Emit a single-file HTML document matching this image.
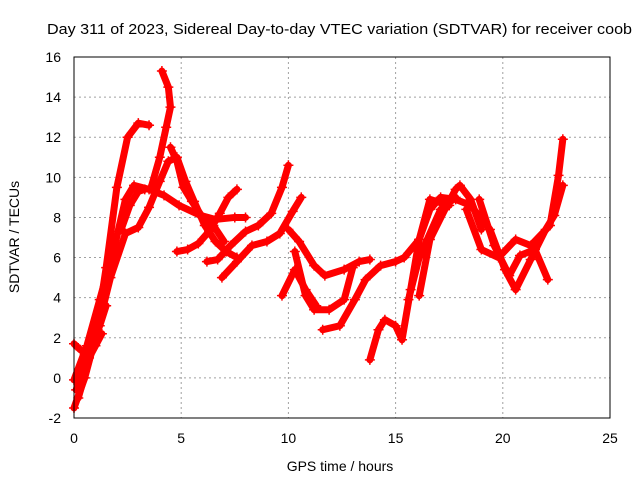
<!DOCTYPE html>
<html><head><meta charset="utf-8"><style>
body{margin:0;background:#fff;}
svg{display:block;font-family:"Liberation Sans",sans-serif;}
</style></head><body>
<svg id="chart" width="640" height="480">
<text x="47" y="34" font-size="15" textLength="585" lengthAdjust="spacingAndGlyphs">Day 311 of 2023, Sidereal Day-to-day VTEC variation (SDTVAR) for receiver coob</text>
<g id="grid"></g>
<g id="series"></g>
<rect x="74" y="57" width="536" height="361" fill="none" stroke="#000" stroke-width="1"/>
<g id="ticks"></g>
<text x="340" y="471" font-size="14" text-anchor="middle">GPS time / hours</text>
<text transform="translate(19,237) rotate(-90)" font-size="14" text-anchor="middle">SDTVAR / TECUs</text>
</svg>
<script>
const xTicks=[0,5,10,15,20,25];
const yTicks=[-2,0,2,4,6,8,10,12,14,16];
const arcT=[
[0,0.5,1,1.5,2,2.5,3,3.5],
[0,0.6,1.2,1.9,2.4,2.8,3.5,4.2,4.9,5.9,6.6,7.5,8.0],
[0.2,1,1.7,2.4,3,3.5,4,4.4,4.8,5.2,5.6,6.1,6.6,7.1,7.6],
[3.6,4.0,4.3,4.5,4.4,4.1],
[4.5,4.8,5.1,5.5,6.0,6.5,7.0],
[4.8,5.3,5.8,6.3,6.8,7.2,7.6],
[6.2,6.7,7.3,8,8.6,9.2,9.7,10],
[6.9,7.6,8.3,9,9.6,10.2,10.6],
[10,10.5,11.2,11.7,12.6,13.3,13.8],
[10.3,10.8,11.2,11.9,12.6,13.0],
[9.7,10.3,10.8,11.3],
[11.6,12.4,13.1,13.6,14.3,15,15.4,16.1,16.6,17.1,17.8,18.5],
[13.8,14.2,14.5,15,15.3,15.7,16.1,16.6,17.5],
[15.6,16.1,17.1,17.8],
[16.1,16.6,17.3,17.8,18,18.5,19],
[18.5,19.4,20.1,20.6,21.3,22,22.4,22.8],
[18.9,19.6,20.3,20.8,21.5,22.1],
[18.3,19,19.8,20.6,21.3,22.2,22.6,22.8],
[0,0.3,0.6,0.9,1.2,1.5],
[0.1,0.4,0.7,1.0,1.3],
[2.2,2.6,3.0,3.3]
];
const arcV=[
[-1.5,0,2,5.5,9.5,12,12.7,12.6],
[-0.1,1.6,3.9,6.6,8.9,9.6,9.4,9.1,8.6,8.1,7.9,8.0,8.0],
[-1,2,5,7.2,7.5,8.5,9.8,10.8,11,9.8,8.8,7.6,6.8,6.3,6.0],
[9.5,11.0,12.5,13.5,14.5,15.3],
[11.5,10.8,9.5,8.8,8.0,7.6,6.8],
[6.3,6.4,6.7,7.3,8.2,9.0,9.4],
[5.8,5.9,6.6,7.3,7.6,8.2,9.5,10.6],
[5.0,5.8,6.6,6.8,7.2,8.3,9.0],
[7.4,6.8,5.6,5.1,5.4,5.8,5.9],
[6.3,4.1,3.4,3.4,3.9,5.5],
[4.1,5.4,4.4,3.6],
[2.4,2.6,3.9,4.9,5.6,5.8,6.0,6.9,8.4,9,8.9,8.6],
[0.9,2.4,2.9,2.6,1.9,4.4,6.9,8.9,8.6],
[3.9,6.0,8.4,9.0],
[4.1,6.9,8.4,9.4,9.6,8.9,7.4],
[8.6,7.4,5.4,4.4,5.9,7.4,8.1,9.6],
[8.9,6.6,5.1,6.1,6.4,4.9],
[8.4,6.4,6.0,6.9,6.6,7.6,10.1,11.9],
[1.7,1.4,1.2,1.9,2.6,3.6],
[-0.6,0.4,1.0,1.6,2.2],
[7.4,8.6,9.3,9.4]
];
const NS='http://www.w3.org/2000/svg';
const X0=74,X1=610,Y0=418,Y1=57;
function xs(t){return X0+(t-0)/(25-0)*(X1-X0);}
function ys(v){return Y0-(v+2)/(16+2)*(Y0-Y1);}
const grid=document.getElementById('grid'),ticks=document.getElementById('ticks'),ser=document.getElementById('series');
xTicks.forEach(t=>{
  const x=xs(t);
  if(t>0&&t<25){const l=document.createElementNS(NS,'line');
  l.setAttribute('x1',x);l.setAttribute('x2',x);l.setAttribute('y1',Y1);l.setAttribute('y2',Y0);
  l.setAttribute('stroke','#a0a0a0');l.setAttribute('stroke-dasharray','2,3');
  
  
  grid.appendChild(l);}
  const tx=document.createElementNS(NS,'text');
  tx.setAttribute('x',x);tx.setAttribute('y',443);tx.setAttribute('font-size','14');tx.setAttribute('text-anchor','middle');
  tx.textContent=t;
  
  
  ticks.appendChild(tx);
});
yTicks.forEach(v=>{
  const y=ys(v);
  if(v>-2&&v<16){const l=document.createElementNS(NS,'line');
  l.setAttribute('x1',X0);l.setAttribute('x2',X1);l.setAttribute('y1',y);l.setAttribute('y2',y);
  l.setAttribute('stroke','#a0a0a0');l.setAttribute('stroke-dasharray','2,3');
  
  
  grid.appendChild(l);}
  const tx=document.createElementNS(NS,'text');
  tx.setAttribute('x',61);tx.setAttribute('y',y+5);tx.setAttribute('font-size','14');tx.setAttribute('text-anchor','end');
  tx.textContent=v;
  
  
  ticks.appendChild(tx);
});
arcT.forEach((ts,i)=>{
  const vs=arcV[i];
  const pts=ts.map((t,j)=>xs(t)+','+ys(vs[j])).join(' ');
  const p=document.createElementNS(NS,'polyline');
  p.setAttribute('points',pts);p.setAttribute('fill','none');p.setAttribute('stroke','#ff0000');
  p.setAttribute('stroke-width','7');p.setAttribute('stroke-linejoin','round');p.setAttribute('stroke-linecap','round');
  
  
  ser.appendChild(p);
  ts.forEach((t,j)=>{
    const m=document.createElementNS(NS,'path');
    const x=xs(t),y=ys(vs[j]);
    m.setAttribute('d','M'+(x-5)+' '+y+'H'+(x+5)+'M'+x+' '+(y-5)+'V'+(y+5));
    m.setAttribute('stroke','#ff0000');m.setAttribute('stroke-width','1.5');
    
    
    ser.appendChild(m);
  });
});
</script>
</body></html>
